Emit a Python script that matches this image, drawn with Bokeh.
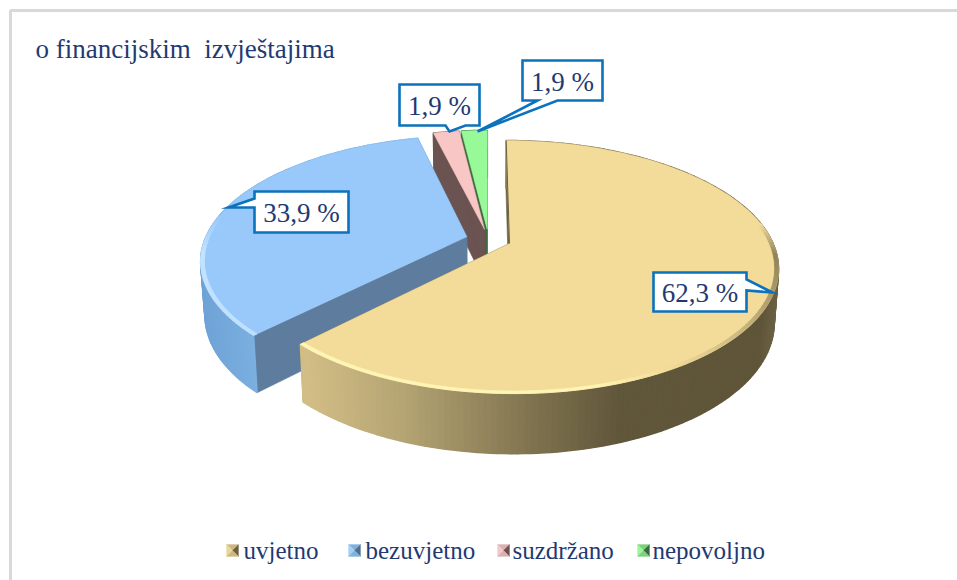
import numpy as np
from bokeh.plotting import figure
from bokeh.core.properties import value
from bokeh.embed import file_html
from bokeh.resources import INLINE

# ---- data
categories = ["uvjetno", "bezuvjetno", "suzdržano", "nepovoljno"]
shares = [62.3, 33.9, 1.9, 1.9]
title_text = "o financijskim\u00a0 izvještajima"

# ---- styles and layout
top_colors = ["#f3dc9a", "#98c9fa", "#f9c6c6", "#98f998"]
face_colors = ["#6b6040", "#5e7d9e", "#6a5350", "#3f6b3f"]
side_x = [
    ([305, 400, 530, 620, 760, 780], ["#d2bd85", "#b5a574", "#80734f", "#60563a", "#5f5539", "#6e6446"]),
    ([200, 262], ["#6fa3d6", "#7db1e2"]),
    ([430, 490], ["#6a5350", "#6a5350"]),
    ([460, 490], ["#3f6b3f", "#3f6b3f"]),
]
bevel_angle = [
    ([80, 95, 120, 150, 165, 224.3],
     ["#f3dc9a", "#8f8258", "#b9a672", "#f3dc9a", "#fff5b4", "#fff5b4"]),
    ([224.3, 262, 280], ["#bfe0ff", "#c4e4ff", "#98c9fa"]),
]
bevel_span = [(80, 224.3), (224.3, 280)]
ink = "#1f3a73"
box_blue = "#0b72bd"

X0, Y0 = 488.0, 239.0          # pie centre on the page
DX, B, C = 262.0, -76.35, 0.1855  # projection of the pie plane
EXPLODE = 0.086


def project(u, v):
    w = 1 + C * v
    return X0 + DX * u / w, (Y0 + B * v) / w


def drop(x, y):
    return X0 + (x - X0) * 0.985, y + 47 + 0.05 * (y - 130)


def hex_rgb(c):
    return np.array([int(c[i:i + 2], 16) for i in (1, 3, 5)], float)


def ramp(stops, x):
    px, cols = stops
    rgb = np.array([hex_rgb(c) for c in cols])
    vals = [np.interp(x, px, rgb[:, k]) for k in range(3)]
    return "#%02x%02x%02x" % tuple(int(round(a)) for a in vals)


p = figure(width=957, height=580, x_range=(0, 957), y_range=(580, 0),
           output_backend="svg", toolbar_location=None, min_border=0,
           outline_line_color=None, background_fill_color="white")
p.axis.visible = False
p.grid.visible = False

# ---- frame
p.line([10, 10, 957], [580, 10, 10], line_color="#d9d9d9", line_width=3)

# ---- pie geometry, clockwise from twelve o'clock
edges = np.concatenate([[0], np.cumsum(shares)]) / sum(shares) * 360.0
order = [3, 2, 1, 0]  # painted back to front


def rim(i, n=None, radius=1.0, a=None, b=None):
    a = edges[i] if a is None else a
    b = edges[i + 1] if b is None else b
    n = n or max(4, int((b - a) / 1.2))
    th = np.radians(np.linspace(a, b, n))
    mid = np.radians((edges[i] + edges[i + 1]) / 2)
    ou, ov = EXPLODE * np.sin(mid), EXPLODE * np.cos(mid)
    return project(ou + radius * np.sin(th), ov + radius * np.cos(th))


def apex(i):
    mid = np.radians((edges[i] + edges[i + 1]) / 2)
    return project(EXPLODE * np.sin(mid), EXPLODE * np.cos(mid))


for i in order:
    rx, ry = rim(i)
    ax, ay = apex(i)
    # cut faces
    for ex, ey in ((rx[0], ry[0]), (rx[-1], ry[-1])):
        bx1, by1 = drop(ex, ey)
        bx2, by2 = drop(ax, ay)
        p.patch([ax, ex, bx1, bx2], [ay, ey, by1, by2],
                fill_color=face_colors[i], line_color=face_colors[i], line_width=0.6)
    # outer wall
    bx, by = drop(rx, ry)
    xs = [[rx[k], rx[k + 1], bx[k + 1], bx[k]] for k in range(len(rx) - 1)]
    ys = [[ry[k], ry[k + 1], by[k + 1], by[k]] for k in range(len(rx) - 1)]
    cols = [ramp(side_x[i], (rx[k] + rx[k + 1]) / 2) for k in range(len(rx) - 1)]
    p.patches(xs, ys, fill_color=cols, line_color=cols, line_width=1.4)
    # top
    p.patch(list(rx) + [ax], list(ry) + [ay], fill_color=top_colors[i],
            line_color=top_colors[i], line_width=0.5)
    # bevel along the rim
    if i < 2:
        a, b = bevel_span[i]
        th = np.linspace(a, b, 90)
        ox, oy = rim(i, a=a, b=b, n=90)
        ix, iy = rim(i, a=a, b=b, n=90, radius=0.986)
        xs = [[ox[k], ox[k + 1], ix[k + 1], ix[k]] for k in range(len(ox) - 1)]
        ys = [[oy[k], oy[k + 1], iy[k + 1], iy[k]] for k in range(len(ox) - 1)]
        cols = [ramp(bevel_angle[i], th[k]) for k in range(len(ox) - 1)]
        p.patches(xs, ys, fill_color=cols, line_color=cols, line_width=0.8)

# sliver along the first slice's start edge
rx, ry = rim(0)
ax, ay = apex(0)
p.line([rx[0], ax], [ry[0], ay], line_color=face_colors[0], line_width=1)

# ---- callouts: box (x0, y0, x1, y1), pointer tip, pointer base
callouts = [
    ((653, 272, 746, 311), (772, 292), "right", (279, 290)),
    ((254, 191, 348, 232), (228, 207), "left", (198, 207)),
    ((399, 84, 479, 125), (449, 131), "bottom", (445, 465)),
    ((522, 60, 602, 100), (477, 131), "bottom", (537, 557)),
]
for i in range(4):
    (x0, y0, x1, y1), (tx, ty), side, (b0, b1) = callouts[i]
    if side == "right":
        px = [x0, x1, x1, tx, x1, x1, x0]
        py = [y0, y0, b0, ty, b1, y1, y1]
    elif side == "left":
        px = [x0, x1, x1, x0, x0, tx, x0]
        py = [y0, y0, y1, y1, b1, ty, b0]
    else:
        px = [x0, x1, x1, b1, tx, b0, x0]
        py = [y0, y0, y1, y1, ty, y1, y1]
    p.patch(px, py, fill_color="white", line_color=box_blue, line_width=2.6,
            line_join="miter")
    label = f"{shares[i]:.1f}".replace(".", ",") + " %"
    p.text([(x0 + x1) / 2], [(y0 + y1) / 2 + 1], text=[label], text_font=value("Liberation Serif"),
           text_font_size="27px", text_color=ink, text_align="center", text_baseline="middle")

# ---- title
p.text([35], [48], text=[title_text], text_font=value("Liberation Serif"),
       text_font_size="27px", text_color=ink, text_align="left", text_baseline="middle")

# ---- legend
legend_marker_x = [226, 348, 497, 637]
legend_text_x = [243, 365, 512, 652]
legend_shades = [
    ("#cdb97f", "#ead79c", "#6b6040"),
    ("#7fb0de", "#a3cef7", "#4f6f8f"),
    ("#d8b0b0", "#f5c8c8", "#6b5250"),
    ("#7dd07d", "#9bf59b", "#3a6b3a"),
]
for i, name in enumerate(categories):
    mx = legend_marker_x[i]
    l, r, t, b = mx, mx + 12, 544, 556
    cx, cy = mx + 6, 550
    main, light, dark = legend_shades[i]
    p.patches([[l, r, cx], [l, cx, l], [r, cx, r], [l, r, cx]],
              [[t, t, cy], [t, cy, b], [t, cy, b], [b, b, cy]],
              fill_color=[main, light, dark, main], line_color=[main, light, dark, main], line_width=0.3)
    p.text([legend_text_x[i]], [550], text=[name], text_font=value("Liberation Serif"),
           text_font_size="25px", text_color=ink, text_align="left", text_baseline="middle")

open("out.html", "w").write(file_html(p, INLINE))
